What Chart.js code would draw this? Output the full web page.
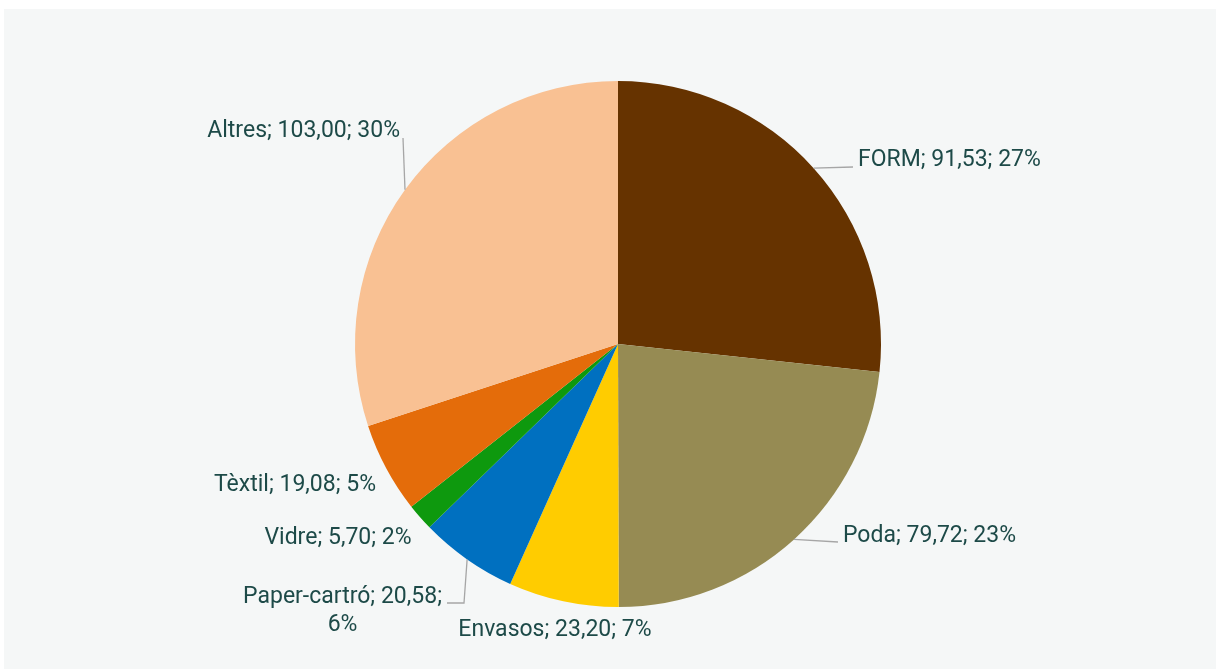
<!DOCTYPE html>
<html>
<head>
<meta charset="utf-8">
<script src="https://cdn.jsdelivr.net/npm/chart.js@4.4.1/dist/chart.umd.min.js"></script>
<style>
  html, body { margin: 0; padding: 0; background: #ffffff; }
  #wrap { width: 1216px; height: 670px; position: relative; }
</style>
</head>
<body>
<div id="wrap"><canvas id="grafic"></canvas></div>
<script>
// dades
const categories = ['FORM', 'Poda', 'Envasos', 'Paper-cartró', 'Vidre', 'Tèxtil', 'Altres'];
const valors = [91.53, 79.72, 23.20, 20.58, 5.70, 19.08, 103.00];
const percentatges = [27, 23, 7, 6, 2, 5, 30];
const colors = ['#663300', '#968b53', '#ffcc00', '#0070c0', '#0e990e', '#e46c0a', '#f9c193'];

// posició de les etiquetes respecte al centre del pastís (px)
const posEtiquetes = [
    { dx: 240, dy: -184, align: 'left', linia: [[235, -177]] },
    { dx: 225, dy: 192, align: 'left', linia: [[220, 198]] },
    { dx: -63, dy: 286, align: 'center' },
    { dx: -176, dy: 253, align: 'right', maxW: 215, linia: [[-154, 259], [-171, 259]] },
    { dx: -280, dy: 194, align: 'center' },
    { dx: -323, dy: 141, align: 'center' },
    { dx: -218, dy: -213, align: 'right', linia: [[-215, -206]] }
];

const FONT = '23px Roboto';
const COLOR_TEXT = '#1d4a48';

function textEtiqueta(i) {
    const v = valors[i].toFixed(2).replace('.', ',');
    return `${categories[i]}; ${v}; ${percentatges[i]}%`;
}

const fons = {
    id: 'fons',
    beforeDraw(chart) {
        const ctx = chart.ctx;
        ctx.save();
        ctx.fillStyle = '#f5f7f7';
        ctx.fillRect(4, 9, 1212, 660);
        ctx.restore();
    }
};

const etiquetes = {
    id: 'etiquetes',
    afterDatasetsDraw(chart) {
        const ctx = chart.ctx;
        const arcs = chart.getDatasetMeta(0).data;
        ctx.save();
        ctx.font = FONT;
        ctx.fillStyle = COLOR_TEXT;
        ctx.textBaseline = 'middle';
        arcs.forEach((arc, i) => {
            const p = posEtiquetes[i];
            const cx = arc.x, cy = arc.y;
            // línia guia des de la vora del sector
            if (p.linia) {
                const a = (arc.startAngle + arc.endAngle) / 2;
                ctx.beginPath();
                ctx.moveTo(cx + arc.outerRadius * Math.cos(a), cy + arc.outerRadius * Math.sin(a));
                p.linia.forEach(pt => ctx.lineTo(cx + pt[0], cy + pt[1]));
                ctx.strokeStyle = '#a6a6a6';
                ctx.lineWidth = 1.3;
                ctx.stroke();
            }
            let text = textEtiqueta(i);
            let linies = [text];
            if (p.maxW && ctx.measureText(text).width > p.maxW) {
                const k = text.lastIndexOf(' ');
                linies = [text.slice(0, k), text.slice(k + 1)];
            }
            const x = cx + p.dx, y = cy + p.dy;
            ctx.textAlign = p.align;
            ctx.fillText(linies[0], x, y);
            if (linies.length > 1) {
                // segona línia centrada sota la primera
                const w = ctx.measureText(linies[0]).width;
                let mid = x;
                if (p.align === 'right') mid = x - w / 2;
                if (p.align === 'left') mid = x + w / 2;
                ctx.textAlign = 'center';
                ctx.fillText(linies[1], mid, y + 28);
            }
        });
        ctx.restore();
    }
};

new Chart(document.getElementById('grafic'), {
    type: 'pie',
    data: {
        labels: categories,
        datasets: [{ data: valors, backgroundColor: colors, borderWidth: 0 }]
    },
    options: {
        responsive: true,
        maintainAspectRatio: false,
        animation: false,
        layout: { padding: { left: 355, right: 335, top: 81, bottom: 63 } },
        plugins: { legend: { display: false }, tooltip: { enabled: false } }
    },
    plugins: [fons, etiquetes]
});
</script>
</body>
</html>
